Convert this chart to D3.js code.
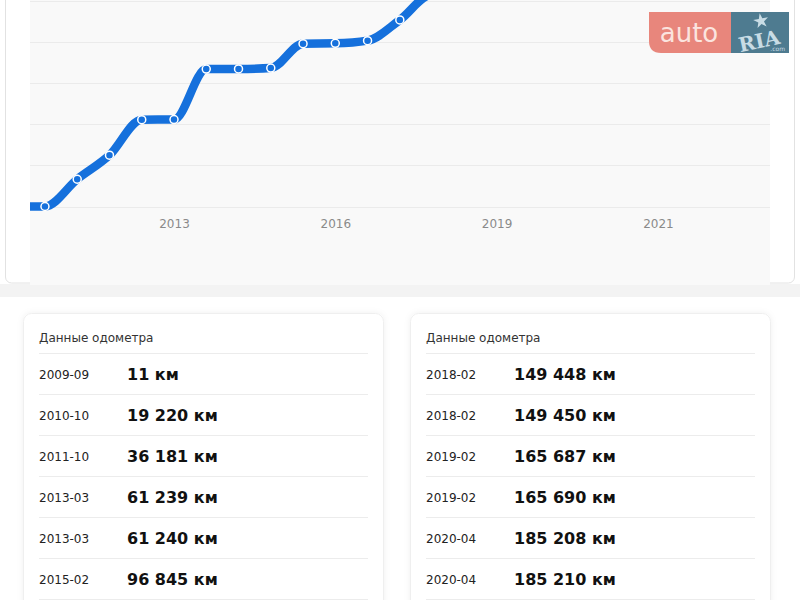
<!DOCTYPE html>
<meta charset="utf-8">
<style>
body { margin: 0; background: #fff; }
svg { display: block; font-family: "DejaVu Sans", sans-serif; }
.grid line { stroke: #ebebeb; stroke-width: 1px; }
.axis text { fill: #8a8a8a; font-size: 12px; }
.line { fill: none; stroke: #1570dc; stroke-width: 8.5px; stroke-linejoin: round; }
.dot { fill: #1570dc; stroke: #fff; stroke-width: 1.5px; }
.card-title { font-size: 12px; fill: #333; }
.row-date { font-size: 12px; fill: #222; }
.row-value { font-size: 16px; font-weight: bold; fill: #111; }
</style>
<svg width="800" height="600"></svg>
<script src="https://d3js.org/d3.v7.min.js"></script>
<script>

// mileage per chart slot (first slot is the leading flat piece cut by the plot edge)
var chartValues = [11, 11, 19220, 36181, 61239, 61240, 96845, 96950, 97600, 114800, 115000, 116900, 131500, 149448, 149450, 165687, 165690, 185208, 185210];
var slotCount = 24;
var tickSlots = [5, 10, 15, 20];
var tickLabels = ["2013", "2016", "2019", "2021"];
var gridValues = [0, 29000, 58000, 87000, 116000, 145000];

// odometer table
var leftDates = ["2009-09", "2010-10", "2011-10", "2013-03", "2013-03", "2015-02"];
var leftKm = [11, 19220, 36181, 61239, 61240, 96845];
var rightDates = ["2018-02", "2018-02", "2019-02", "2019-02", "2020-04", "2020-04"];
var rightKm = [149448, 149450, 165687, 165690, 185208, 185210];

var svg = d3.select("svg");

var defs = svg.append("defs");
defs.append("clipPath").attr("id", "plotClip")
  .append("rect").attr("x", 30).attr("y", 0).attr("width", 740).attr("height", 285);
var shadow = defs.append("filter").attr("id", "soft")
  .attr("x", "-10%").attr("y", "-10%").attr("width", "120%").attr("height", "120%");
shadow.append("feDropShadow").attr("dx", 0).attr("dy", 0).attr("stdDeviation", 3)
  .attr("flood-color", "#000").attr("flood-opacity", 0.06);

// top card + gray page strip
svg.append("rect").attr("x", 0).attr("y", 284).attr("width", 800).attr("height", 13).attr("fill", "#f3f3f3");
svg.append("rect").attr("x", 5.5).attr("y", -10).attr("width", 789).attr("height", 293)
  .attr("rx", 6).attr("fill", "#fff").attr("stroke", "#e2e2e2");
svg.append("rect").attr("x", 30).attr("y", 0).attr("width", 740).attr("height", 285).attr("fill", "#f9f9f9");

var x = d3.scalePoint()
  .domain(d3.range(slotCount))
  .range([12.7, 12.7 + (slotCount - 1) * 32.26]);

var y = d3.scaleLinear()
  .domain([0, 145000])
  .range([206.5, 0.8]);

var plot = svg.append("g").attr("clip-path", "url(#plotClip)");

plot.append("g").attr("class", "grid")
  .selectAll("line").data(gridValues).enter().append("line")
  .attr("x1", 30).attr("x2", 770)
  .attr("y1", function(d) { return Math.round(y(d)) + 0.5; })
  .attr("y2", function(d) { return Math.round(y(d)) + 0.5; });

var line = d3.line()
  .x(function(d, i) { return x(i); })
  .y(function(d) { return y(d); })
  .curve(d3.curveMonotoneX);

plot.append("path")
  .datum(chartValues)
  .attr("class", "line")
  .attr("d", line);

plot.selectAll(".dot")
  .data(chartValues.slice(1))
  .enter().append("circle")
  .attr("class", "dot")
  .attr("r", 4)
  .attr("cx", function(d, i) { return x(i + 1); })
  .attr("cy", function(d) { return y(d); });

var xAxis = d3.axisBottom(x)
  .tickValues(tickSlots)
  .tickSize(0)
  .tickPadding(0)
  .tickFormat(function(d) { return tickLabels[tickSlots.indexOf(d)]; });

svg.append("g")
  .attr("class", "axis")
  .attr("transform", "translate(0,224)")
  .call(xAxis)
  .call(function(g) { g.select(".domain").remove(); })
  .selectAll("text").attr("dy", "0.35em").attr("font-family", "DejaVu Sans");

// logo
var logo = svg.append("g");
logo.append("path")
  .attr("d", "M649,12 H731 V53 H661 Q649,53 649,41 Z")
  .attr("fill", "#e8867c");
logo.append("rect").attr("x", 731).attr("y", 12).attr("width", 58).attr("height", 41).attr("fill", "#4e7b90");
logo.append("text").attr("x", 689).attr("y", 42).attr("text-anchor", "middle")
  .attr("font-size", 26).attr("fill", "#fbe4df").text("auto");
logo.append("text").attr("x", 759).attr("y", 48).attr("text-anchor", "middle")
  .attr("font-family", "DejaVu Serif").attr("font-weight", "bold").attr("font-size", 20)
  .attr("fill", "#c8dce5").attr("transform", "rotate(-12,759,40)").text("RIA");
logo.append("path")
  .attr("d", d3.symbol().type(d3.symbolStar).size(70)())
  .attr("transform", "translate(761,21) rotate(-10)")
  .attr("fill", "#c8dce5");
logo.append("text").attr("x", 785).attr("y", 51).attr("text-anchor", "end")
  .attr("font-size", 6).attr("fill", "#c8dce5").text(".com");

// odometer cards
var fmt = d3.formatLocale({ decimal: ",", thousands: " ", grouping: [3], currency: ["", ""] }).format(",");

function card(x0, valueX, dates, kms) {
  var g = svg.append("g");
  g.append("rect").attr("x", x0 + 0.5).attr("y", 313.5).attr("width", 360).attr("height", 320)
    .attr("rx", 8).attr("fill", "#fff").attr("stroke", "#efefef").attr("filter", "url(#soft)");
  g.append("text").attr("class", "card-title").attr("x", x0 + 16).attr("y", 342).text("Данные одометра");
  var rows = g.selectAll(".row").data(dates).enter().append("g")
    .attr("transform", function(d, i) { return "translate(0," + (353.5 + i * 41) + ")"; });
  rows.append("line").attr("x1", x0 + 16).attr("x2", x0 + 345).attr("y1", 0).attr("y2", 0)
    .attr("stroke", "#ececec");
  rows.append("text").attr("class", "row-date").attr("x", x0 + 16).attr("y", 25).text(function(d) { return d; });
  rows.append("text").attr("class", "row-value").attr("x", valueX).attr("y", 26.5)
    .text(function(d, i) { return fmt(kms[i]) + " км"; });
  g.append("line").attr("x1", x0 + 16).attr("x2", x0 + 345).attr("y1", 599.5).attr("y2", 599.5).attr("stroke", "#ececec");
}

card(23, 127, leftDates, leftKm);
card(410, 514, rightDates, rightKm);
</script>
